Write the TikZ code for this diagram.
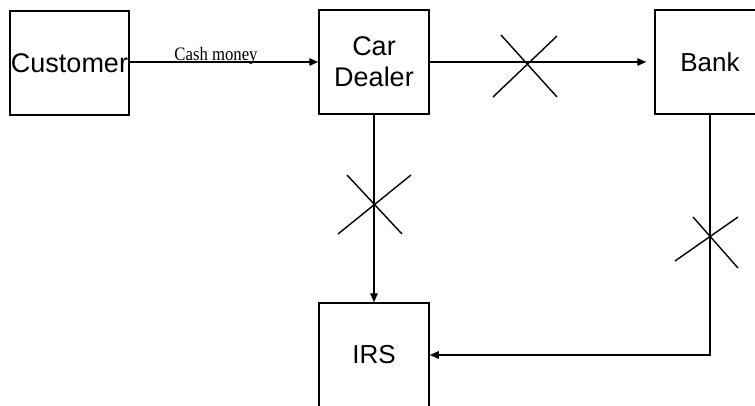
\documentclass[tikz,border=0pt]{standalone}
\usepackage{fontspec}
\setmainfont{Liberation Sans}
\newfontfamily\serifcash{Liberation Serif}
\usetikzlibrary{arrows.meta}
\begin{document}
\begin{tikzpicture}[x=1pt,y=-1pt,
  entity/.style={draw=black,line width=1.5pt,rectangle,minimum height=104pt,
    inner sep=0pt,align=center,font=\fontsize{27}{31}\selectfont},
  flow/.style={line width=1.4pt,-{Triangle[length=9pt,width=7.5pt]}},
  cross/.style={line width=1.4pt}]
\useasboundingbox (0,0) rectangle (755,405);
\clip (0,0) rectangle (755,405);
\fill[white] (0,0) rectangle (755,405);
\node[entity,minimum width=119pt] (cust) at (69.5,63) {Customer};
\node[entity,minimum width=110pt] (dealer) at (374,62) {Car\\Dealer};
\node[entity,minimum width=110pt,font=\fontsize{26}{30}\selectfont] (bank) at (710,62) {Bank};
\node[entity,minimum width=110pt,font=\fontsize{26}{30}\selectfont] (irs) at (374,355) {IRS};
% connectors
\draw[flow] (cust.east |- 0,62) -- (dealer.west |- 0,62);
\node[anchor=base,inner sep=0pt,font=\serifcash\fontsize{19}{19}\selectfont,xscale=0.88] (cashlbl) at (216,60.5) {Cash money};
\draw[flow,shorten >=8pt] (dealer.east |- 0,62) -- (bank.west |- 0,62);
\draw[flow] (dealer.south) -- (irs.north);
\draw[flow] (bank.south) |- (irs.east);
% crosses
\coordinate (xa1) at (501,35); \coordinate (xa2) at (557,97);
\coordinate (xa3) at (557,36); \coordinate (xa4) at (493,97);
\draw[cross] (xa1) -- (xa2) (xa3) -- (xa4);
\coordinate (xb1) at (347,175); \coordinate (xb2) at (402,234);
\coordinate (xb3) at (411,175); \coordinate (xb4) at (338,234);
\draw[cross] (xb1) -- (xb2) (xb3) -- (xb4);
\coordinate (xc1) at (693,217); \coordinate (xc2) at (738,268);
\coordinate (xc3) at (738,217); \coordinate (xc4) at (675,261);
\draw[cross] (xc1) -- (xc2) (xc3) -- (xc4);
\end{tikzpicture}
\end{document}
